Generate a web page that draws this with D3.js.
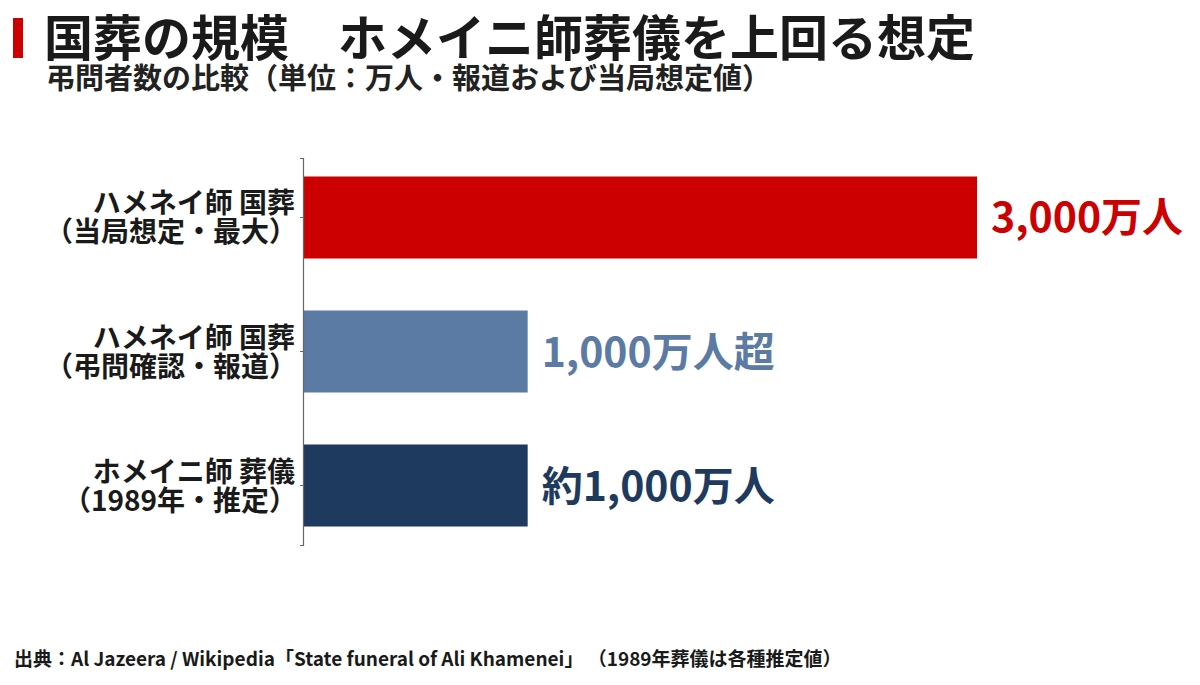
<!DOCTYPE html>
<html>
<head>
<meta charset="utf-8">
<script src="https://cdn.jsdelivr.net/npm/d3@7"></script>
<style>
  body { margin: 0; background: #fff; }
  svg { display: block; font-family: "Noto Sans CJK JP", "Noto Sans", sans-serif; }
</style>
</head>
<body>
<div id="chart"></div>
<script>
// データ
var categories = ["khamenei_max", "khamenei_report", "khomeini_1989"];
var labelLine1 = ["ハメネイ師 国葬", "ハメネイ師 国葬", "ホメイニ師 葬儀"];
var labelLine2 = ["（当局想定・最大）", "（弔問確認・報道）", "（1989年・推定）"];
var values = [3000, 1000, 1000];
var valueLabels = ["3,000万人", "1,000万人超", "約1,000万人"];
var colors = ["#cc0000", "#5b7ba5", "#1f3a5f"];

var width = 1200, height = 685;

var svg = d3.select("#chart").append("svg")
    .attr("width", width)
    .attr("height", height);

// タイトル
svg.append("rect")
    .attr("x", 13).attr("y", 18)
    .attr("width", 10).attr("height", 40)
    .attr("fill", "#cc0000");

svg.append("text")
    .attr("x", 44).attr("y", 56)
    .style("font-size", "49px")
    .style("font-weight", "bold")
    .attr("fill", "#1a1a1a")
    .text("国葬の規模　ホメイニ師葬儀を上回る想定");

svg.append("text")
    .attr("x", 46).attr("y", 89)
    .style("font-size", "29px")
    .style("font-weight", "bold")
    .attr("fill", "#222")
    .text("弔問者数の比較（単位：万人・報道および当局想定値）");

var x = d3.scaleLinear()
    .domain([0, 3000])
    .range([303, 977]);

var y = d3.scaleBand()
    .domain(categories)
    .range([158, 545])
    .paddingInner(0.388)
    .paddingOuter(0.138);

var chartGroup = svg.append("g");

chartGroup.selectAll("rect.bar")
    .data(categories)
    .enter().append("rect")
    .attr("class", "bar")
    .attr("x", x(0))
    .attr("y", function(d) { return y(d); })
    .attr("width", function(d, i) { return x(values[i]) - x(0); })
    .attr("height", y.bandwidth())
    .attr("fill", function(d, i) { return colors[i]; });

// 軸
var yAxis = d3.axisLeft(y).tickSize(3).tickFormat("");
var axisG = chartGroup.append("g")
    .attr("transform", "translate(" + x(0) + ",0)")
    .call(yAxis);
axisG.select(".domain").attr("stroke", "#666").attr("stroke-width", 1.2);
axisG.selectAll(".tick line").attr("stroke", "#666");

// カテゴリラベル
var labels = chartGroup.selectAll("text.cat")
    .data(categories)
    .enter().append("text")
    .attr("class", "cat")
    .attr("text-anchor", "end")
    .attr("fill", "#1a1a1a")
    .style("font-size", "28px")
    .style("font-weight", "bold");

labels.append("tspan")
    .attr("x", 295)
    .attr("y", function(d) { return y(d) + y.bandwidth() / 2 - 4; })
    .text(function(d, i) { return labelLine1[i]; });

labels.append("tspan")
    .attr("x", 297)
    .attr("y", function(d) { return y(d) + y.bandwidth() / 2 + 25; })
    .text(function(d, i) { return labelLine2[i]; });

// 値ラベル
chartGroup.selectAll("text.val")
    .data(categories)
    .enter().append("text")
    .attr("class", "val")
    .attr("x", function(d, i) { return x(values[i]) + 14; })
    .attr("y", function(d) { return y(d) + y.bandwidth() / 2 + 15; })
    .attr("fill", function(d, i) { return colors[i]; })
    .style("font-size", "41px")
    .style("font-weight", "bold")
    .text(function(d, i) { return valueLabels[i]; });

// 出典
svg.append("text")
    .attr("x", 14).attr("y", 666)
    .style("font-size", "19px")
    .style("font-weight", "bold")
    .attr("fill", "#1a1a1a")
    .text("出典：Al Jazeera / Wikipedia「State funeral of Ali Khamenei」 （1989年葬儀は各種推定値）");
</script>
</body>
</html>
